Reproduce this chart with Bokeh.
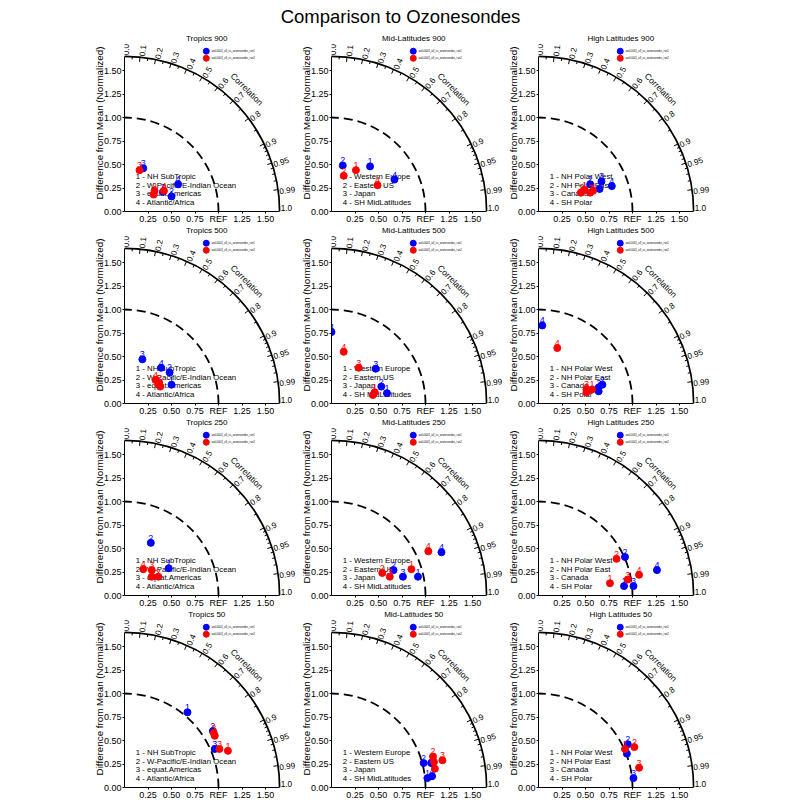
import numpy as np
from bokeh.plotting import figure
from bokeh.layouts import column, row
from bokeh.models import (Range1d, FixedTicker, PrintfTickFormatter, Spacer,
                          ColumnDataSource, LabelSet)
from bokeh.core.properties import value
from bokeh.embed import file_html
from bokeh.resources import INLINE

# ---------------- data ----------------
MAIN_TITLE = "Comparison to Ozonesondes"
LEVELS = [900, 500, 250, 50]
REGIONS = ["Tropics", "Mid-Latitudes", "High Latitudes"]

sites_tropics = ["1 - NH SubTropic", "2 - W-Pacific/E-Indian Ocean",
                 "3 - equat.Americas", "4 - Atlantic/Africa"]
sites_midlat = ["1 - Western Europe", "2 - Eastern US", "3 - Japan",
                "4 - SH MidLatitudes"]
sites_highlat = ["1 - NH Polar West", "2 - NH Polar East", "3 - Canada",
                 "4 - SH Polar"]

legend_names = ["aoi0.0001_o3_vs_ozonesondes_run1",
                "aoi0.0001_o3_vs_ozonesondes_run2"]

# (x, y) per site 1..4 ; None = not visible
tropics_900_blue = [(0.41, 0.21), (0.50, 0.16), (0.20, 0.46), (0.57, 0.29)]
tropics_900_red = [(0.31, 0.18), (0.32, 0.22), (0.16, 0.44), (0.42, 0.22)]
midlat_900_blue = [(0.41, 0.48), (0.12, 0.49), None, (0.67, 0.34)]
midlat_900_red = [(0.26, 0.44), (0.13, 0.38), None, (0.49, 0.28)]
highlat_900_blue = [(0.65, 0.24), (0.55, 0.29), (0.67, 0.32), (0.78, 0.27)]
highlat_900_red = [(0.49, 0.23), (0.45, 0.20), (0.55, 0.20), (0.58, 0.22)]

tropics_500_blue = [(0.50, 0.20), (0.48, 0.33), (0.19, 0.47), (0.39, 0.38)]
tropics_500_red = [(0.36, 0.20), (0.37, 0.22), (0.38, 0.18), (0.33, 0.25)]
midlat_500_blue = [(0.59, 0.11), (0.53, 0.18), (0.47, 0.37), (0.00, 0.76)]
midlat_500_red = [(0.46, 0.12), (0.44, 0.09), (0.29, 0.38), (0.13, 0.55)]
highlat_500_blue = [(0.64, 0.13), (0.68, 0.20), (0.64, 0.17), (0.04, 0.83)]
highlat_500_red = [(0.57, 0.15), (0.51, 0.12), (0.51, 0.15), (0.20, 0.59)]

tropics_250_blue = [(0.47, 0.29), (0.28, 0.56), None, None]
tropics_250_red = [(0.29, 0.20), (0.36, 0.20), (0.29, 0.27), (0.20, 0.28)]
midlat_250_blue = [(0.92, 0.20), (0.66, 0.27), (0.76, 0.20), (1.17, 0.46)]
midlat_250_red = [(0.85, 0.28), (0.54, 0.24), (0.62, 0.20), (1.03, 0.47)]
highlat_250_blue = [(0.91, 0.10), (0.92, 0.41), (1.01, 0.10), (1.26, 0.27)]
highlat_250_red = [(0.76, 0.13), (0.83, 0.39), (0.95, 0.17), (1.07, 0.22)]

tropics_50_blue = [(0.67, 0.80), (0.94, 0.60), (0.96, 0.41), None]
tropics_50_red = [(1.10, 0.39), (0.95, 0.58), (1.01, 0.41), (0.96, 0.55)]
midlat_50_blue = [(1.02, 0.10), (0.98, 0.26), (1.06, 0.26), (1.07, 0.12)]
midlat_50_red = [(1.10, 0.20), (1.08, 0.33), (1.18, 0.29), (1.09, 0.27)]
highlat_50_blue = [(0.94, 0.36), (0.95, 0.46), (1.01, 0.10), None]
highlat_50_red = [(0.92, 0.41), (1.02, 0.43), (1.07, 0.21), None]

corr_major = [0.0, 0.1, 0.2, 0.3, 0.4, 0.5, 0.6, 0.7, 0.8, 0.9, 0.95, 0.99, 1.0]
corr_labels = ["0.0", "0.1", "0.2", "0.3", "0.4", "0.5", "0.6", "0.7", "0.8",
               "0.9", "0.95", "0.99", "1.0"]
corr_minor = [0.05, 0.15, 0.25, 0.35, 0.45, 0.55, 0.65, 0.75, 0.85,
              0.91, 0.92, 0.93, 0.94, 0.96, 0.97, 0.98]
x_ticks = [0.25, 0.5, 0.75, 1.0, 1.25, 1.5]
y_ticks = [0.0, 0.25, 0.5, 0.75, 1.0, 1.25, 1.5]
OUTER_R = 1.65
REF_R = 1.0

panels = [
    [("Tropics 900", sites_tropics, tropics_900_blue, tropics_900_red),
     ("Mid-Latitudes 900", sites_midlat, midlat_900_blue, midlat_900_red),
     ("High Latitudes 900", sites_highlat, highlat_900_blue, highlat_900_red)],
    [("Tropics 500", sites_tropics, tropics_500_blue, tropics_500_red),
     ("Mid-Latitudes 500", sites_midlat, midlat_500_blue, midlat_500_red),
     ("High Latitudes 500", sites_highlat, highlat_500_blue, highlat_500_red)],
    [("Tropics 250", sites_tropics, tropics_250_blue, tropics_250_red),
     ("Mid-Latitudes 250", sites_midlat, midlat_250_blue, midlat_250_red),
     ("High Latitudes 250", sites_highlat, highlat_250_blue, highlat_250_red)],
    [("Tropics 50", sites_tropics, tropics_50_blue, tropics_50_red),
     ("Mid-Latitudes 50", sites_midlat, midlat_50_blue, midlat_50_red),
     ("High Latitudes 50", sites_highlat, highlat_50_blue, highlat_50_red)],
]

# ---------------- styling ----------------
FONT = "Liberation Sans"
PX = 94.0
FW, FH = 173, 177
XMAX, YMAX = FW / PX, FH / PX
BLUE, RED = "#0000ff", "#ff0000"


def style_axis(ax, ticks):
    ax.ticker = FixedTicker(ticks=ticks)
    ax.formatter = PrintfTickFormatter(format="%.2f")
    ax.bounds = (0, OUTER_R)
    ax.minor_tick_line_color = None
    ax.major_tick_in = 0
    ax.major_tick_out = 2
    ax.major_label_standoff = 1
    ax.axis_line_color = "black"
    ax.major_tick_line_color = "black"
    ax.major_label_text_font = FONT
    ax.major_label_text_font_size = "9px"
    ax.major_label_text_color = "black"


def make_panel(title, names, blue, red):
    p = figure(frame_width=FW, frame_height=FH,
               x_range=Range1d(0, XMAX), y_range=Range1d(0, YMAX),
               output_backend="svg", toolbar_location=None,
               min_border_left=20, min_border_right=0, min_border_top=0,
               min_border_bottom=10, outline_line_color=None)
    p.xgrid.visible = False
    p.ygrid.visible = False
    xa = p.xaxis[0]
    style_axis(xa, x_ticks)
    xa.major_label_standoff = 0
    xa.major_label_overrides = {1.0: "REF"}
    ya = p.yaxis[0]
    style_axis(ya, y_ticks)
    ya.axis_label = "Difference from Mean (Normalized)"
    ya.axis_label_text_font = FONT
    ya.axis_label_text_font_size = "9.8px"
    ya.axis_label_text_font_style = "normal"
    ya.axis_label_text_color = "black"
    ya.axis_label_standoff = -4

    # arcs
    p.arc(x=[0], y=[0], radius=OUTER_R, start_angle=0, end_angle=np.pi / 2,
          line_color="black", line_width=1.7)
    p.arc(x=[0], y=[0], radius=REF_R, start_angle=0, end_angle=np.pi / 2,
          line_color="black", line_width=1.8, line_dash="9 5")

    # correlation ticks
    maj = np.arccos(np.array(corr_major[1:-1]))
    mnr = np.arccos(np.array(corr_minor))
    xs, ys = [], []
    for ph in maj:
        xs.append([OUTER_R * np.cos(ph), (OUTER_R - 0.05) * np.cos(ph)])
        ys.append([OUTER_R * np.sin(ph), (OUTER_R - 0.05) * np.sin(ph)])
    for ph in mnr:
        xs.append([OUTER_R * np.cos(ph), (OUTER_R - 0.03) * np.cos(ph)])
        ys.append([OUTER_R * np.sin(ph), (OUTER_R - 0.03) * np.sin(ph)])
    p.multi_line(xs=xs, ys=ys, line_color="black", line_width=1)

    # correlation labels
    ph = np.arccos(np.array(corr_major))
    shift = 0.012
    lr = OUTER_R + 0.012
    lx = lr * np.cos(ph - shift)
    ly = np.maximum(lr * np.sin(ph - shift), 0.042)  # keep "1.0" inside frame
    csrc = ColumnDataSource(dict(x=lx, y=ly, text=corr_labels, angle=ph))
    p.add_layout(LabelSet(x="x", y="y", text="text", angle="angle",
                          source=csrc, text_align="left",
                          text_baseline="middle", text_font=value(FONT),
                          text_font_size="8.2px", text_color="black"))
    p.text(x=[1.84 * np.cos(np.pi / 4)], y=[1.84 * np.sin(np.pi / 4)],
           text=["Correlation"], angle=-np.pi / 4, text_align="center",
           text_baseline="middle", text_font=value(FONT),
           text_font_size="8.5px", text_color="black")

    # panel title
    p.text(x=[0.875], y=[1.843], text=[title], text_align="center",
           text_baseline="middle", text_font=value(FONT),
           text_font_size="8px", text_color="black")

    # legend (models)
    p.scatter(x=[0.87, 0.87], y=[1.705, 1.63], size=6, color=[BLUE, RED])
    p.text(x=[0.925, 0.925], y=[1.705, 1.63], text=legend_names,
           text_align="left", text_baseline="middle", text_font=value(FONT),
           text_font_size="2.6px", text_color="black")

    # site names
    p.text(x=[0.12] * 4, y=[0.37, 0.28, 0.19, 0.095], text=names,
           text_align="left", text_baseline="middle", text_font=value(FONT),
           text_font_size="7.8px", text_color="black")

    # points
    for pts, col in ((blue, BLUE), (red, RED)):
        px = [pt[0] for pt in pts if pt is not None]
        py = [pt[1] for pt in pts if pt is not None]
        lab = [str(i + 1) for i, pt in enumerate(pts) if pt is not None]
        p.scatter(x=px, y=py, size=7, color=col)
        p.text(x=px, y=py, text=lab, text_align="center",
               text_baseline="bottom", y_offset=-2, text_font=value(FONT),
               text_font_size="9px", text_color=col)
    return p


TITLE_H = 34
tfig = figure(width=720, height=TITLE_H, x_range=Range1d(0, 720),
              y_range=Range1d(0, TITLE_H), output_backend="svg",
              toolbar_location=None, min_border=0, outline_line_color=None,
              x_axis_type=None, y_axis_type=None)
tfig.grid.visible = False
tfig.text(x=[400], y=[TITLE_H - 16], text=[MAIN_TITLE], text_align="center",
          text_baseline="middle", text_font=value(FONT),
          text_font_size="18.5px", text_color="black")

rows = [tfig]
for prow in panels:
    figs = [make_panel(*args) for args in prow]
    rows.append(row(Spacer(width=90, height=FH), *figs))

layout = column(*rows)
open("out.html", "w").write(file_html(layout, INLINE))
